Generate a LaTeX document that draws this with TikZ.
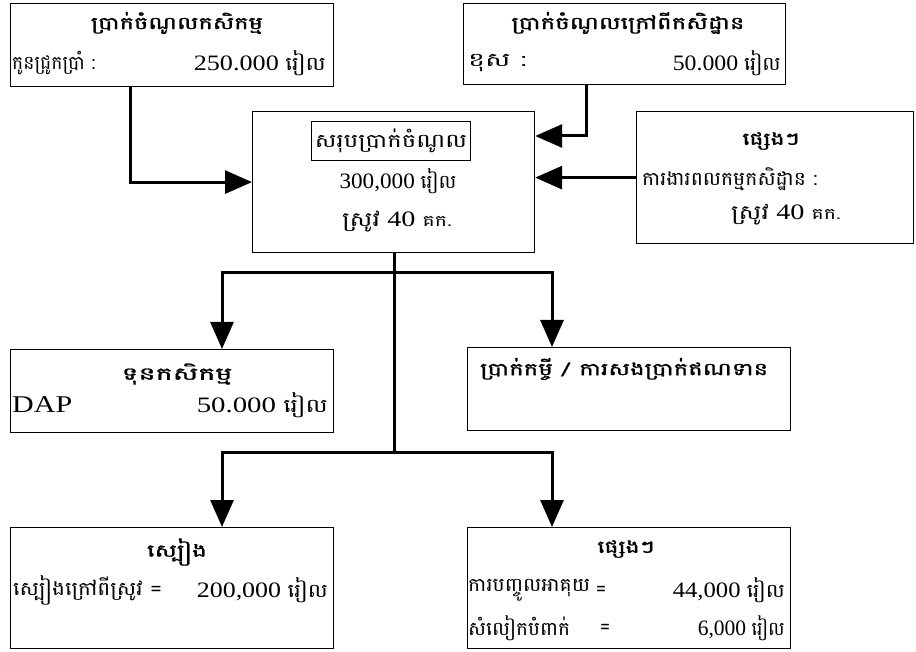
\documentclass[tikz,border=0pt]{standalone}
\usepackage{fontspec}
\usepackage{graphicx}
\setmainfont{Liberation Serif}
\newfontfamily\km[Script=Khmer]{Battambang}
\newfontfamily\kmb[Script=Khmer,FakeBold=1.2]{Battambang}
\usetikzlibrary{arrows.meta,calc}
\newcommand{\riel}{{\km\fontsize{19}{21}\selectfont រៀល}}
\newcommand{\kk}{{\km\fontsize{16}{18}\selectfont គក.}}
\newcommand{\srov}{{\km\fontsize{20}{22}\selectfont ស្រូវ}}
\newcommand{\fw}[2]{\resizebox{#1}{\height}{#2}}
\begin{document}
\begin{tikzpicture}[x=1pt,y=-1pt,
 box/.style={draw,line width=1.2pt,inner sep=0pt,anchor=north west},
 conn/.style={line width=3pt,-{Triangle[length=27pt,width=23pt]}},
 plain/.style={line width=3pt},
 ttl/.style={font=\kmb\fontsize{17.5}{20}\selectfont,inner sep=0pt},
 kt/.style={font=\km\fontsize{19}{21}\selectfont,inner sep=0pt},
 num/.style={font=\fontsize{22}{24}\selectfont,inner sep=0pt}]
\useasboundingbox[fill=white] (0,0) rectangle (916,652);

% boxes
\node[box,minimum width=323pt,minimum height=83pt] (inc1) at (10,3) {};
\node[box,minimum width=322pt,minimum height=81pt] (inc2) at (463,3) {};
\node[box,minimum width=282pt,minimum height=141pt] (total) at (252,111) {};
\node[box,minimum width=277pt,minimum height=132pt] (other) at (636,111) {};
\node[box,minimum width=323pt,minimum height=83pt] (cap) at (10,349) {};
\node[box,minimum width=323pt,minimum height=83pt] (loan) at (467,347) {};
\node[box,minimum width=323pt,minimum height=121pt] (food) at (10,527) {};
\node[box,minimum width=323pt,minimum height=121pt] (misc) at (467,527) {};

% texts
\node[ttl] (t1) at (177,23) {\fw{172pt}{ប្រាក់ចំណូលកសិកម្ម}};
\node[kt,anchor=west] (t1a) at (12,63) {\fw{83pt}{កូនជ្រូកប្រាំ :}};
\node[num,anchor=east] (t1b) at (326,63) {\fw{132pt}{250.000 \riel}};

\node[ttl] (t2) at (628,23) {\fw{233pt}{ប្រាក់ចំណូលក្រៅពីកសិដ្ឋាន}};
\node[kt,anchor=west] (t2a) at (468,63) {\fw{58pt}{ខុស :}};
\node[num,anchor=east] (t2b) at (781,63) {\fw{108pt}{50.000 \riel}};

\node[draw,line width=1pt,minimum width=159pt,minimum height=39pt,inner sep=0pt,font=\km\fontsize{19}{21}\selectfont] (t3) at (391,141) {\fw{152pt}{សរុបប្រាក់ចំណូល}};
\node[num] (t3a) at (398,181) {\fw{117pt}{300,000 \riel}};
\node[num] (t3b) at (397,222) {\fw{110pt}{\srov{} 40 \kk}};

\node[ttl] (t4) at (771,141) {\fw{57pt}{ផ្សេងៗ}};
\node[kt,anchor=west] (t4a) at (642,179) {\fw{175pt}{ការងារពលកម្មកសិដ្ឋាន :}};
\node[num] (t4b) at (786,215) {\fw{110pt}{\srov{} 40 \kk}};

\node[ttl] (t5) at (177,374) {\fw{111pt}{ទុនកសិកម្ម}};
\node[num,anchor=west,font=\fontsize{24}{26}\selectfont] (t5a) at (12,405) {\fw{60pt}{DAP}};
\node[num,anchor=east] (t5b) at (328,405) {\fw{131pt}{50.000 \riel}};

\node[ttl,anchor=west] (t6) at (480,369) {\fw{288pt}{ប្រាក់កម្ចី / ការសងប្រាក់ឥណទាន}};

\node[ttl] (t7) at (177,552) {\fw{60pt}{ស្បៀង}};
\node[kt,anchor=west] (t7a) at (13,590) {\fw{149pt}{ស្បៀងក្រៅពីស្រូវ =}};
\node[num,anchor=east] (t7b) at (328,590) {\fw{131pt}{200,000 \riel}};

\node[ttl] (t8) at (626,549) {\fw{57pt}{ផ្សេងៗ}};
\node[kt,anchor=west] (t8a) at (468,590) {\fw{122pt}{ការបញ្ចូលអាគុយ}};
\node[kt] (t8e) at (601,591) {=};
\node[num,anchor=east] (t8b) at (785,590) {\fw{112pt}{44,000 \riel}};
\node[kt,anchor=west] (t8c) at (468,628) {\fw{102pt}{សំលៀកបំពាក់}};
\node[kt] (t8f) at (605,629) {=};
\node[num,anchor=east] (t8d) at (785,628) {\fw{87pt}{6,000 \riel}};

% connectors
\coordinate (j1) at (394,273);
\coordinate (j2) at (394,452);
\draw[conn] ($(inc1.south west)+(120,0)$) |- (total.west);
\draw[conn] ($(inc2.south west)+(123,0)$) |- ($(total.north east)+(0,25)$);
\draw[conn] (other.west) -- (other.west -| total.east);
\draw[plain] (total.south -| j1) -- (j2);
\draw[conn] (j1) -| ($(cap.north west)+(212,0)$);
\draw[conn] (j1) -| ($(loan.north west)+(85,0)$);
\draw[conn] (j2) -| ($(food.north west)+(212,0)$);
\draw[conn] (j2) -| ($(misc.north west)+(85,0)$);
\end{tikzpicture}
\end{document}
